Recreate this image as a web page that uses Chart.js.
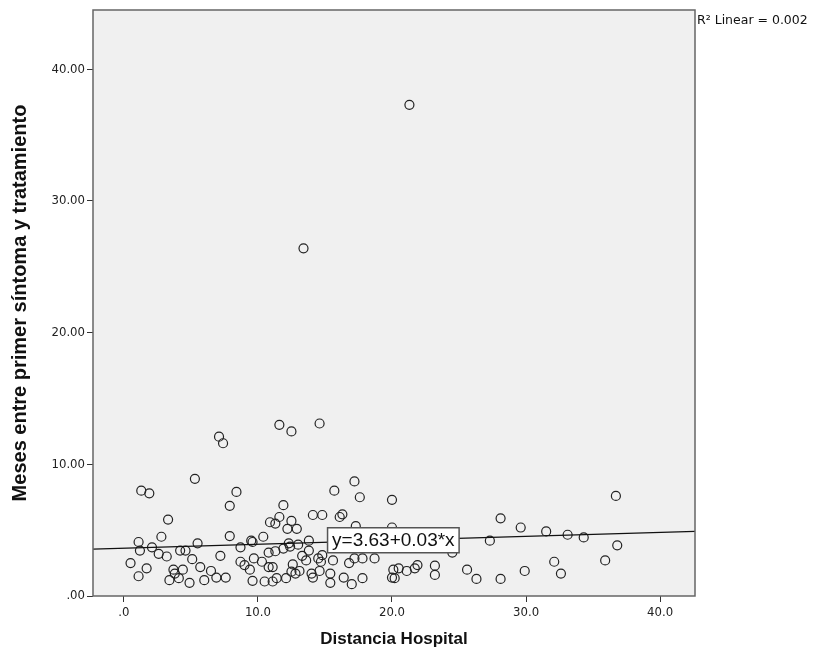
<!DOCTYPE html>
<html>
<head>
<meta charset="utf-8">
<script src="https://cdn.jsdelivr.net/npm/chart.js@4/dist/chart.umd.min.js"></script>
<style>
  body { margin: 0; background: #fff; }
  #wrap { width: 829px; height: 658px; position: relative; }
</style>
</head>
<body>
<div id="wrap"><canvas id="scatterChart"></canvas></div>
<script>
// Distancia Hospital (x) / Meses entre primer síntoma y tratamiento (y)
const distancia = [
  21.3, 13.4, 11.6, 12.5, 14.6, 7.1, 7.4, 5.3, 1.3, 1.9, 8.4, 17.2, 15.7, 17.6, 20.0, 36.7,
  28.1, 29.6, 31.5, 33.1, 34.3, 27.3, 36.8, 35.9, 32.1, 32.6, 29.9, 28.1, 26.3, 25.6, 24.5,
  23.2, 23.2, 21.9, 21.7, 21.1, 20.5, 20.1, 20.0, 20.2, 20.0,
  11.9, 14.1, 14.8, 16.1, 16.3, 10.9, 11.3, 11.6, 12.5, 12.2, 12.9, 10.4, 17.3, 9.6, 12.3,
  13.8, 12.4, 11.9, 13.0, 10.8, 11.3, 13.8, 14.8, 14.5, 14.7, 15.6, 16.8, 17.2, 17.8, 18.7,
  9.7, 10.3, 10.8, 11.1, 12.6, 13.3, 13.6, 9.4, 12.5, 13.1, 14.0, 14.6, 15.4, 16.4, 17.8,
  9.6, 10.5, 11.1, 11.4, 12.1, 12.8, 14.1, 15.4, 17.0,
  7.9, 3.3, 2.8, 7.9, 1.1, 5.5, 9.5, 1.2, 2.1, 2.6, 3.2, 4.2, 4.6, 8.7, 7.2, 5.1, 0.5,
  1.7, 1.1, 3.7, 4.4, 5.7, 6.5, 6.9, 7.6, 8.7, 9.0, 3.8, 4.1, 3.4, 4.9, 6.0
];
const meses = [
  37.3, 26.4, 13.0, 12.5, 13.1, 12.1, 11.6, 8.9, 8.0, 7.8, 7.9, 8.7, 8.0, 7.5, 7.3, 7.6,
  5.9, 5.2, 4.9, 4.65, 4.45, 4.2, 3.85, 2.7, 2.6, 1.7, 1.9, 1.3, 1.3, 2.0, 3.3,
  2.3, 1.6, 2.35, 2.1, 1.9, 2.1, 2.0, 1.4, 1.35, 5.2,
  6.9, 6.15, 6.15, 6.0, 6.2, 5.6, 5.5, 6.0, 5.7, 5.1, 5.1, 4.5, 5.3, 4.1, 4.0,
  4.2, 3.75, 3.6, 3.9, 3.3, 3.4, 3.45, 3.1, 2.85, 2.6, 2.7, 2.5, 2.85, 2.85, 2.85,
  2.85, 2.6, 2.2, 2.2, 2.4, 3.05, 2.7, 2.0, 1.85, 1.9, 1.7, 1.9, 1.7, 1.4, 1.35,
  1.15, 1.1, 1.1, 1.35, 1.35, 1.7, 1.4, 1.0, 0.9,
  6.85, 5.8, 4.5, 4.55, 4.1, 4.0, 4.2, 3.45, 3.7, 3.2, 3.0, 3.45, 3.45, 3.7, 3.05, 2.8, 2.5,
  2.1, 1.5, 2.0, 2.0, 2.2, 1.9, 1.4, 1.4, 2.6, 2.35, 1.7, 1.35, 1.2, 1.0, 1.2
];

// linear fit shown in the chart: y = 3.63 + 0.03*x, R2 = 0.002
const fitIntercept = 3.63;
const fitSlope = 0.03;
const fitRange = [-2.3, 42.6];
const fitLabel = 'y=3.63+0.03*x';
const fitLabelAt = 20.1;
const r2Label = 'R\u00b2 Linear = 0.002';

const xTicks = [0, 10, 20, 30, 40];
const xTickLabels = ['.0', '10.0', '20.0', '30.0', '40.0'];
const yTicks = [0, 10, 20, 30, 40];
const yTickLabels = ['.00', '10.00', '20.00', '30.00', '40.00'];

const points = distancia.map((d, i) => ({ x: d, y: meses[i] }));
const fitLine = fitRange.map(x => ({ x: x, y: fitIntercept + fitSlope * x }));

const tickFont = { family: '"Liberation Sans Narrow", "DejaVu Sans Condensed", sans-serif', size: 13 };
const xTitleFont = { family: '"Liberation Sans", Arial, sans-serif', size: 17, weight: 'bold' };
const yTitleFont = { family: '"Liberation Sans", Arial, sans-serif', size: 20, weight: 'bold' };

const plotFrame = {
  id: 'plotFrame',
  beforeDraw(chart) {
    const a = chart.chartArea;
    const c = chart.ctx;
    c.save();
    c.fillStyle = '#f0f0f0';
    c.fillRect(a.left, a.top, a.right - a.left, a.bottom - a.top);
    c.restore();
  },
  afterDatasetsDraw(chart) {
    const a = chart.chartArea;
    const c = chart.ctx;
    const xs = chart.scales.x, ys = chart.scales.y;
    c.save();
    c.strokeStyle = '#666';
    c.lineWidth = 1.5;
    c.strokeRect(a.left, a.top, a.right - a.left, a.bottom - a.top);

    // equation label sitting on the fit line
    const px = xs.getPixelForValue(fitLabelAt);
    const py = ys.getPixelForValue(fitIntercept + fitSlope * fitLabelAt);
    c.font = '19px "Liberation Sans", Arial, sans-serif';
    const w = c.measureText(fitLabel).width + 9;
    const h = 25;
    c.fillStyle = '#fff';
    c.fillRect(px - w / 2, py - h / 2, w, h);
    c.strokeStyle = '#555';
    c.lineWidth = 1.5;
    c.strokeRect(px - w / 2, py - h / 2, w, h);
    c.fillStyle = '#111';
    c.textAlign = 'center';
    c.textBaseline = 'middle';
    c.fillText(fitLabel, px, py + 1);

    // R2 note outside the plot
    c.font = '12.5px "DejaVu Sans", sans-serif';
    c.textAlign = 'left';
    c.textBaseline = 'middle';
    c.fillText(r2Label, a.right + 2, a.top + 11);
    c.restore();
  }
};

const ctx = document.getElementById('scatterChart').getContext('2d');
const scatterChart = new Chart(ctx, {
  type: 'scatter',
  data: {
    datasets: [{
      label: 'Meses',
      data: points,
      pointStyle: 'circle',
      pointRadius: 4.5,
      pointHoverRadius: 4.5,
      borderColor: '#222',
      borderWidth: 1.2,
      backgroundColor: 'rgba(0,0,0,0)',
      order: 2
    }, {
      type: 'line',
      label: 'Linear',
      data: fitLine,
      borderColor: '#111',
      borderWidth: 1.2,
      pointRadius: 0,
      fill: false,
      order: 1
    }]
  },
  options: {
    responsive: true,
    maintainAspectRatio: false,
    animation: false,
    layout: { padding: { left: 0, right: 134, top: 10, bottom: 0 } },
    plugins: {
      legend: { display: false },
      tooltip: { enabled: false }
    },
    scales: {
      x: {
        type: 'linear',
        min: fitRange[0],
        max: fitRange[1],
        afterBuildTicks: s => { s.ticks = xTicks.map(v => ({ value: v })); },
        afterFit: s => { s.height = 62; },
        ticks: {
          font: tickFont,
          color: '#222',
          padding: 3,
          maxRotation: 0,
          callback: (v, i) => xTickLabels[i]
        },
        grid: { drawOnChartArea: false, drawTicks: true, tickLength: 6, color: '#333' },
        border: { display: false },
        title: {
          display: true,
          text: 'Distancia Hospital',
          font: xTitleFont,
          color: '#111',
          padding: { top: 0, bottom: 8 }
        }
      },
      y: {
        type: 'linear',
        min: 0,
        max: 44.5,
        afterBuildTicks: s => { s.ticks = yTicks.map(v => ({ value: v })); },
        afterFit: s => { s.width = 93; },
        ticks: {
          font: tickFont,
          color: '#222',
          padding: 2,
          callback: (v, i) => yTickLabels[i]
        },
        grid: { drawOnChartArea: false, drawTicks: true, tickLength: 6, color: '#333' },
        border: { display: false },
        title: {
          display: true,
          text: 'Meses entre primer síntoma y tratamiento',
          font: yTitleFont,
          color: '#111',
          padding: { top: 8, bottom: 0 }
        }
      }
    }
  },
  plugins: [plotFrame]
});
</script>
</body>
</html>
